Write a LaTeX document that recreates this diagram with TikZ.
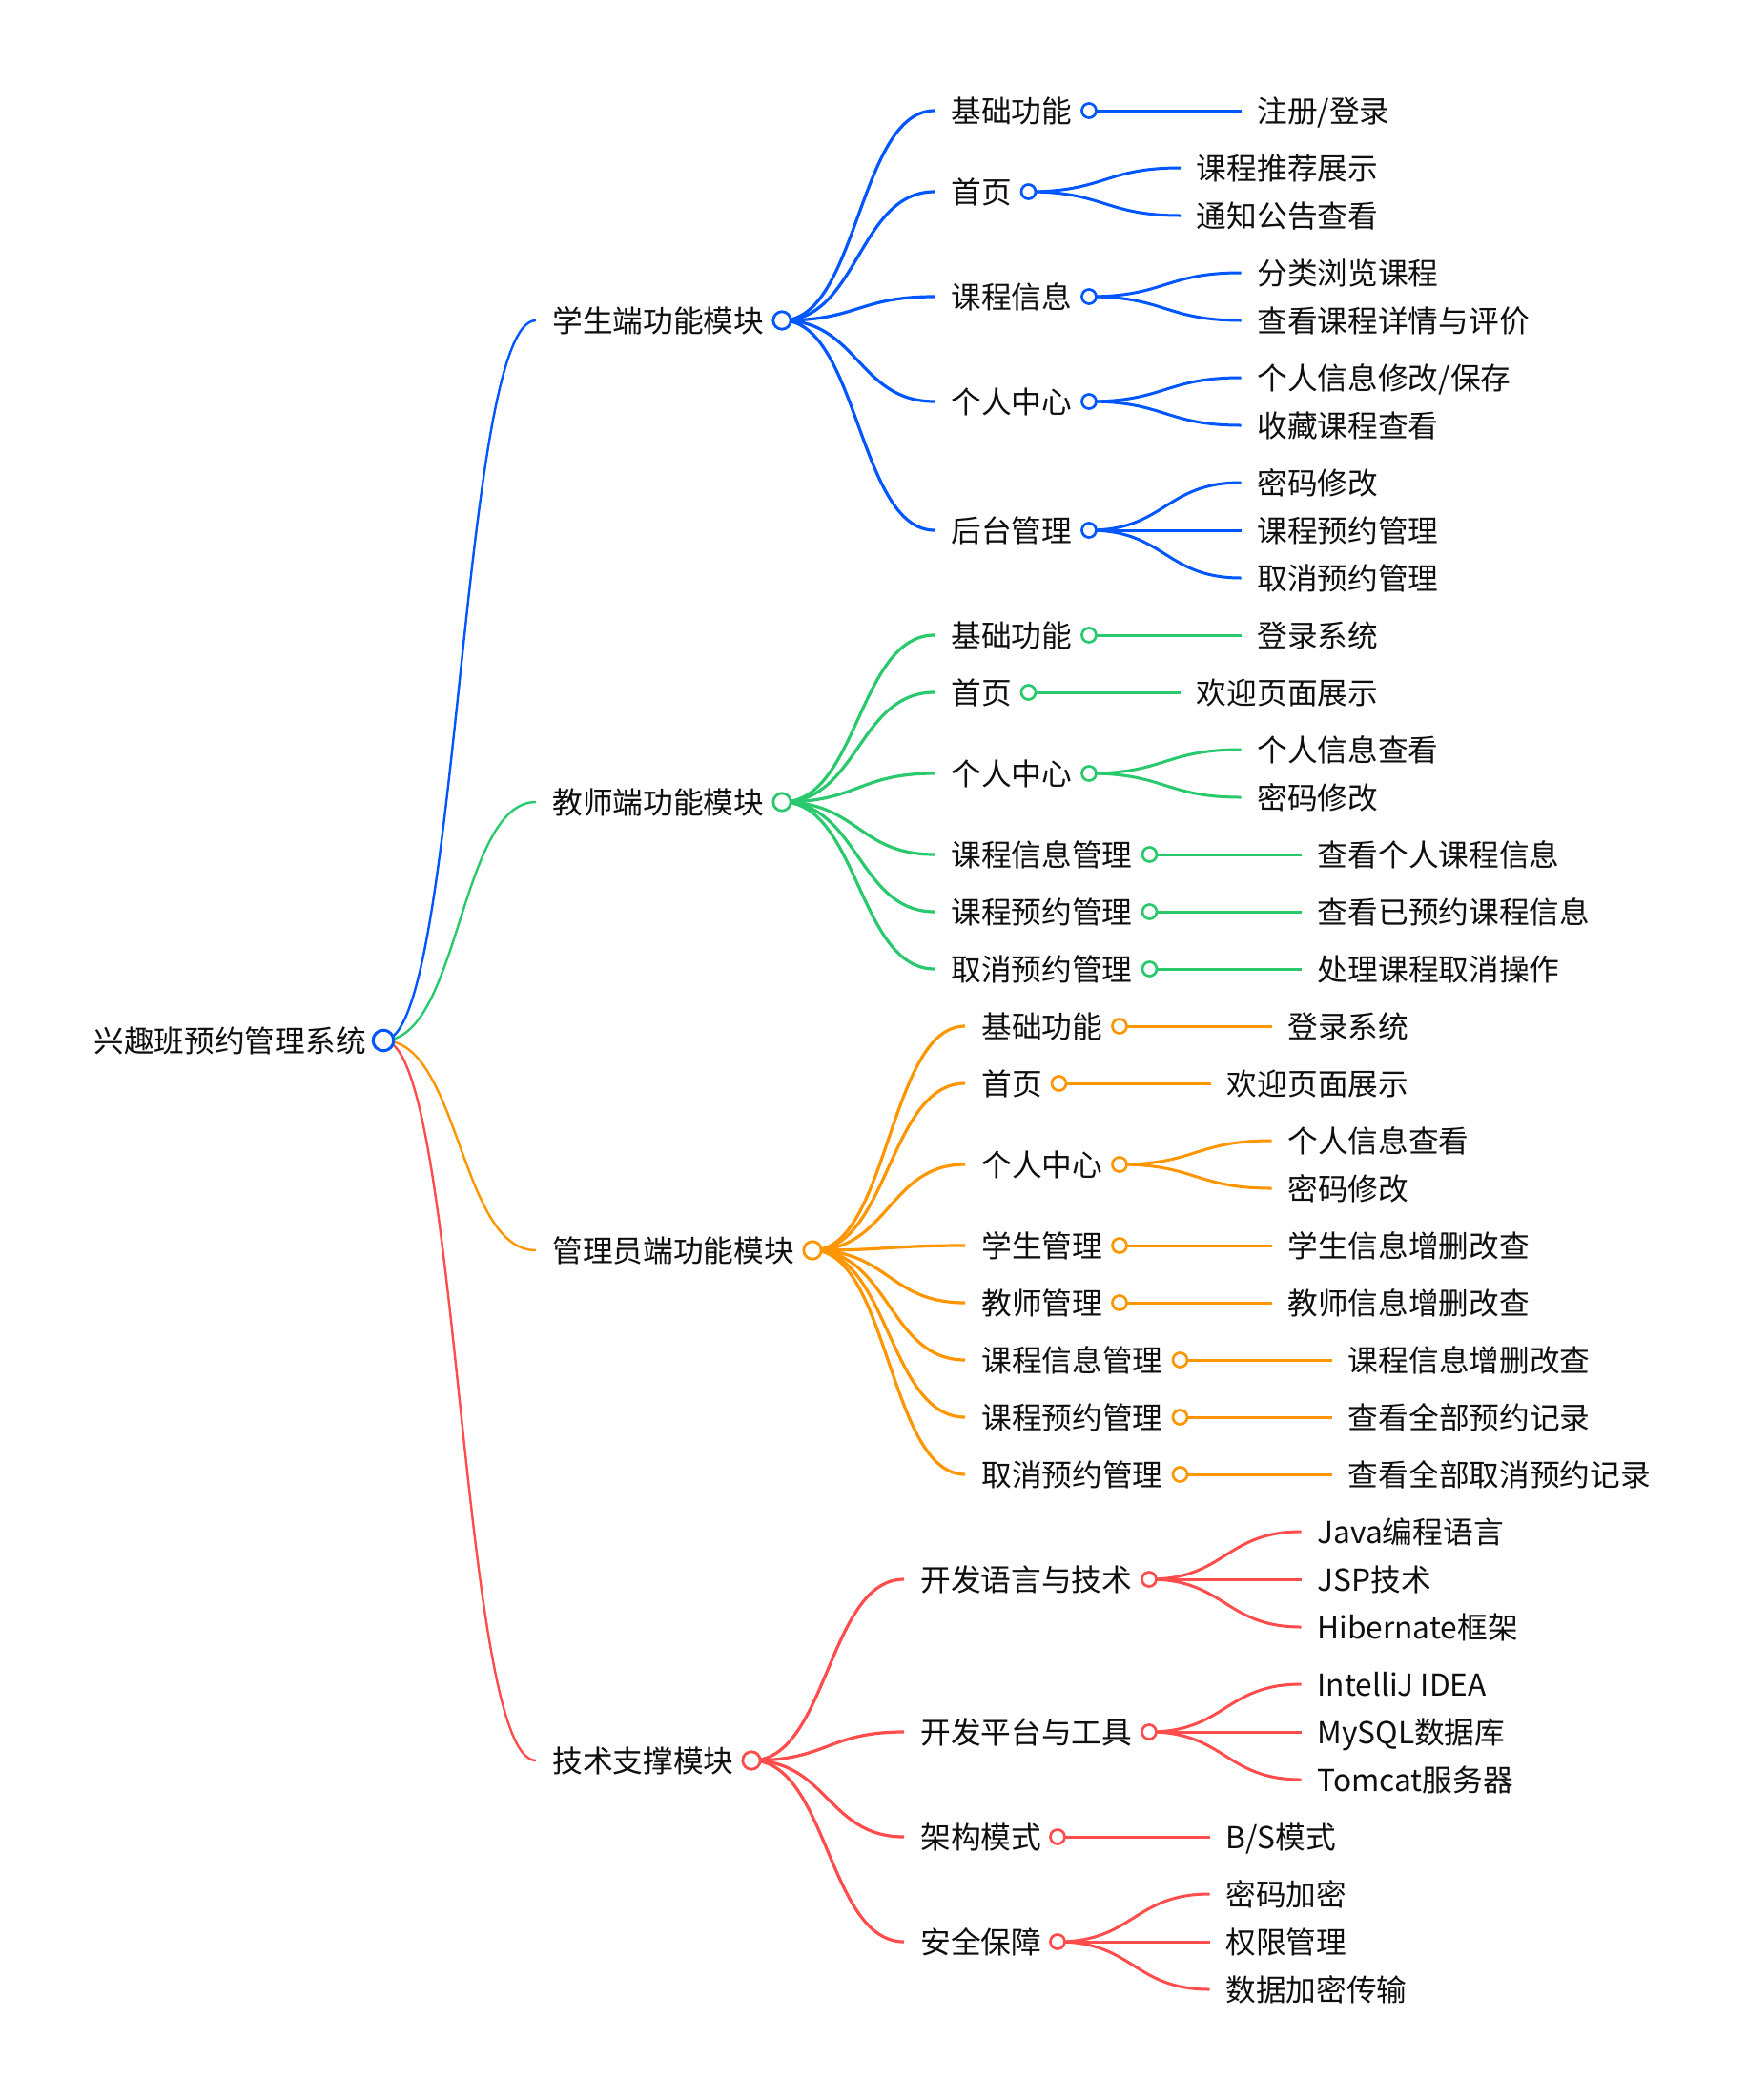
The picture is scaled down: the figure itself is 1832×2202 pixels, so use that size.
\documentclass[tikz,border=0pt]{standalone}
\usepackage{fontspec}
\newfontfamily\cjk{Noto Sans CJK SC}
\usetikzlibrary{calc}
\pgfdeclarelayer{bg}
\pgfsetlayers{bg,main}
\definecolor{cB}{RGB}{0,86,255}
\definecolor{cG}{RGB}{43,201,110}
\definecolor{cO}{RGB}{255,150,0}
\definecolor{cR}{RGB}{255,77,77}
\definecolor{txt}{RGB}{15,15,15}
% inner node: name, colour, text x, y, text, circle x, dot style
\newcommand\MMnode[7]{%
  \coordinate (#1-e) at (#3-17,#4);
  \node[mmtext] (#1-t) at (#3,#4) {#5};
  \node[#7=#2] (#1) at (#6,#4) {};
}
% leaf: name, text x, y, text
\newcommand\MMleaf[4]{%
  \coordinate (#1-e) at (#2-16.5,#3);
  \node[mmtext] (#1-t) at (#2,#3) {#4};
}
% link: parent circle, child name, colour, width
\newcommand\MMlink[4]{%
  \begin{pgfonlayer}{bg}
  \draw[#3,line width=#4] let \p1=(#1.center), \p2=(#2-e) in
    (\p1) .. controls ({(\x1+\x2)/2},\y1) and ({(\x1+\x2)/2},\y2) .. (\p2);
  \end{pgfonlayer}
}
\begin{document}
\begin{tikzpicture}[x=0.5pt,y=-0.5pt,
  mmtext/.style={anchor=west,inner sep=0pt,text=txt,
    font=\cjk\fontsize{15.85}{18}\selectfont,text height=13.9pt,text depth=1.9pt},
  rootdot/.style={circle,draw=#1,fill=white,line width=1.5pt,inner sep=0pt,minimum size=10.8pt},
  onedot/.style={circle,draw=#1,fill=white,line width=1.4pt,inner sep=0pt,minimum size=9.2pt},
  twodot/.style={circle,draw=#1,fill=white,line width=1.35pt,inner sep=0pt,minimum size=7.5pt}]
\useasboundingbox (0,0) rectangle (1832,2202);
\begin{pgfonlayer}{bg}
\fill[white] (0,0) rectangle (1832,2202);
\end{pgfonlayer}

% root
\node[mmtext] (R-t) at (98,1091) {兴趣班预约管理系统};
\node[rootdot=cB] (R) at (402,1091) {};

% level 1
\MMnode{S}{cB}{579}{336}{学生端功能模块}{820}{onedot}
\MMnode{T}{cG}{579}{841}{教师端功能模块}{820}{onedot}
\MMnode{A}{cO}{579}{1311}{管理员端功能模块}{852}{onedot}
\MMnode{K}{cR}{579}{1846}{技术支撑模块}{788}{onedot}
\MMlink{R}{S}{cB}{1.2pt}
\MMlink{R}{T}{cG}{1.2pt}
\MMlink{R}{A}{cO}{1.2pt}
\MMlink{R}{K}{cR}{1.2pt}

% student branch
\MMnode{S1}{cB}{997}{116}{基础功能}{1142}{twodot}
\MMnode{S2}{cB}{997}{201}{首页}{1078.5}{twodot}
\MMnode{S3}{cB}{997}{311}{课程信息}{1142}{twodot}
\MMnode{S4}{cB}{997}{421}{个人中心}{1142}{twodot}
\MMnode{S5}{cB}{997}{556}{后台管理}{1142}{twodot}
\foreach \c in {S1,S2,S3,S4,S5} {\MMlink{S}{\c}{cB}{1.6pt}}
\MMleaf{S1a}{1318}{116}{注册/登录}
\MMleaf{S2a}{1254.5}{176}{课程推荐展示}
\MMleaf{S2b}{1254.5}{226}{通知公告查看}
\MMleaf{S3a}{1318}{286}{分类浏览课程}
\MMleaf{S3b}{1318}{336}{查看课程详情与评价}
\MMleaf{S4a}{1318}{396}{个人信息修改/保存}
\MMleaf{S4b}{1318}{446}{收藏课程查看}
\MMleaf{S5a}{1318}{506}{密码修改}
\MMleaf{S5b}{1318}{556}{课程预约管理}
\MMleaf{S5c}{1318}{606}{取消预约管理}
\MMlink{S1}{S1a}{cB}{1.5pt}
\MMlink{S2}{S2a}{cB}{1.5pt}
\MMlink{S2}{S2b}{cB}{1.5pt}
\MMlink{S3}{S3a}{cB}{1.5pt}
\MMlink{S3}{S3b}{cB}{1.5pt}
\MMlink{S4}{S4a}{cB}{1.5pt}
\MMlink{S4}{S4b}{cB}{1.5pt}
\MMlink{S5}{S5a}{cB}{1.5pt}
\MMlink{S5}{S5b}{cB}{1.5pt}
\MMlink{S5}{S5c}{cB}{1.5pt}

% teacher branch
\MMnode{T1}{cG}{997}{666}{基础功能}{1142}{twodot}
\MMnode{T2}{cG}{997}{726}{首页}{1078.5}{twodot}
\MMnode{T3}{cG}{997}{811}{个人中心}{1142}{twodot}
\MMnode{T4}{cG}{997}{896}{课程信息管理}{1205.5}{twodot}
\MMnode{T5}{cG}{997}{956}{课程预约管理}{1205.5}{twodot}
\MMnode{T6}{cG}{997}{1016}{取消预约管理}{1205.5}{twodot}
\foreach \c in {T1,T2,T3,T4,T5,T6} {\MMlink{T}{\c}{cG}{1.6pt}}
\MMleaf{T1a}{1318}{666}{登录系统}
\MMleaf{T2a}{1254.5}{726}{欢迎页面展示}
\MMleaf{T3a}{1318}{786}{个人信息查看}
\MMleaf{T3b}{1318}{836}{密码修改}
\MMleaf{T4a}{1381.5}{896}{查看个人课程信息}
\MMleaf{T5a}{1381.5}{956}{查看已预约课程信息}
\MMleaf{T6a}{1381.5}{1016}{处理课程取消操作}
\MMlink{T1}{T1a}{cG}{1.5pt}
\MMlink{T2}{T2a}{cG}{1.5pt}
\MMlink{T3}{T3a}{cG}{1.5pt}
\MMlink{T3}{T3b}{cG}{1.5pt}
\MMlink{T4}{T4a}{cG}{1.5pt}
\MMlink{T5}{T5a}{cG}{1.5pt}
\MMlink{T6}{T6a}{cG}{1.5pt}

% admin branch
\MMnode{A1}{cO}{1029}{1076}{基础功能}{1174}{twodot}
\MMnode{A2}{cO}{1029}{1136}{首页}{1110.5}{twodot}
\MMnode{A3}{cO}{1029}{1221}{个人中心}{1174}{twodot}
\MMnode{A4}{cO}{1029}{1306}{学生管理}{1174}{twodot}
\MMnode{A5}{cO}{1029}{1366}{教师管理}{1174}{twodot}
\MMnode{A6}{cO}{1029}{1426}{课程信息管理}{1237.5}{twodot}
\MMnode{A7}{cO}{1029}{1486}{课程预约管理}{1237.5}{twodot}
\MMnode{A8}{cO}{1029}{1546}{取消预约管理}{1237.5}{twodot}
\foreach \c in {A1,A2,A3,A4,A5,A6,A7,A8} {\MMlink{A}{\c}{cO}{1.6pt}}
\MMleaf{A1a}{1350}{1076}{登录系统}
\MMleaf{A2a}{1286.5}{1136}{欢迎页面展示}
\MMleaf{A3a}{1350}{1196}{个人信息查看}
\MMleaf{A3b}{1350}{1246}{密码修改}
\MMleaf{A4a}{1350}{1306}{学生信息增删改查}
\MMleaf{A5a}{1350}{1366}{教师信息增删改查}
\MMleaf{A6a}{1413.5}{1426}{课程信息增删改查}
\MMleaf{A7a}{1413.5}{1486}{查看全部预约记录}
\MMleaf{A8a}{1413.5}{1546}{查看全部取消预约记录}
\MMlink{A1}{A1a}{cO}{1.5pt}
\MMlink{A2}{A2a}{cO}{1.5pt}
\MMlink{A3}{A3a}{cO}{1.5pt}
\MMlink{A3}{A3b}{cO}{1.5pt}
\MMlink{A4}{A4a}{cO}{1.5pt}
\MMlink{A5}{A5a}{cO}{1.5pt}
\MMlink{A6}{A6a}{cO}{1.5pt}
\MMlink{A7}{A7a}{cO}{1.5pt}
\MMlink{A8}{A8a}{cO}{1.5pt}

% tech branch
\MMnode{K1}{cR}{965}{1656}{开发语言与技术}{1205}{twodot}
\MMnode{K2}{cR}{965}{1816}{开发平台与工具}{1205}{twodot}
\MMnode{K3}{cR}{965}{1926}{架构模式}{1109}{twodot}
\MMnode{K4}{cR}{965}{2036}{安全保障}{1109}{twodot}
\foreach \c in {K1,K2,K3,K4} {\MMlink{K}{\c}{cR}{1.6pt}}
\MMleaf{K1a}{1381}{1606}{Java编程语言}
\MMleaf{K1b}{1381}{1656}{JSP技术}
\MMleaf{K1c}{1381}{1706}{Hibernate框架}
\MMleaf{K2a}{1381}{1766}{IntelliJ IDEA}
\MMleaf{K2b}{1381}{1816}{MySQL数据库}
\MMleaf{K2c}{1381}{1866}{Tomcat服务器}
\MMleaf{K3a}{1285}{1926}{B/S模式}
\MMleaf{K4a}{1285}{1986}{密码加密}
\MMleaf{K4b}{1285}{2036}{权限管理}
\MMleaf{K4c}{1285}{2086}{数据加密传输}
\MMlink{K1}{K1a}{cR}{1.5pt}
\MMlink{K1}{K1b}{cR}{1.5pt}
\MMlink{K1}{K1c}{cR}{1.5pt}
\MMlink{K2}{K2a}{cR}{1.5pt}
\MMlink{K2}{K2b}{cR}{1.5pt}
\MMlink{K2}{K2c}{cR}{1.5pt}
\MMlink{K3}{K3a}{cR}{1.5pt}
\MMlink{K4}{K4a}{cR}{1.5pt}
\MMlink{K4}{K4b}{cR}{1.5pt}
\MMlink{K4}{K4c}{cR}{1.5pt}
\end{tikzpicture}
\end{document}
